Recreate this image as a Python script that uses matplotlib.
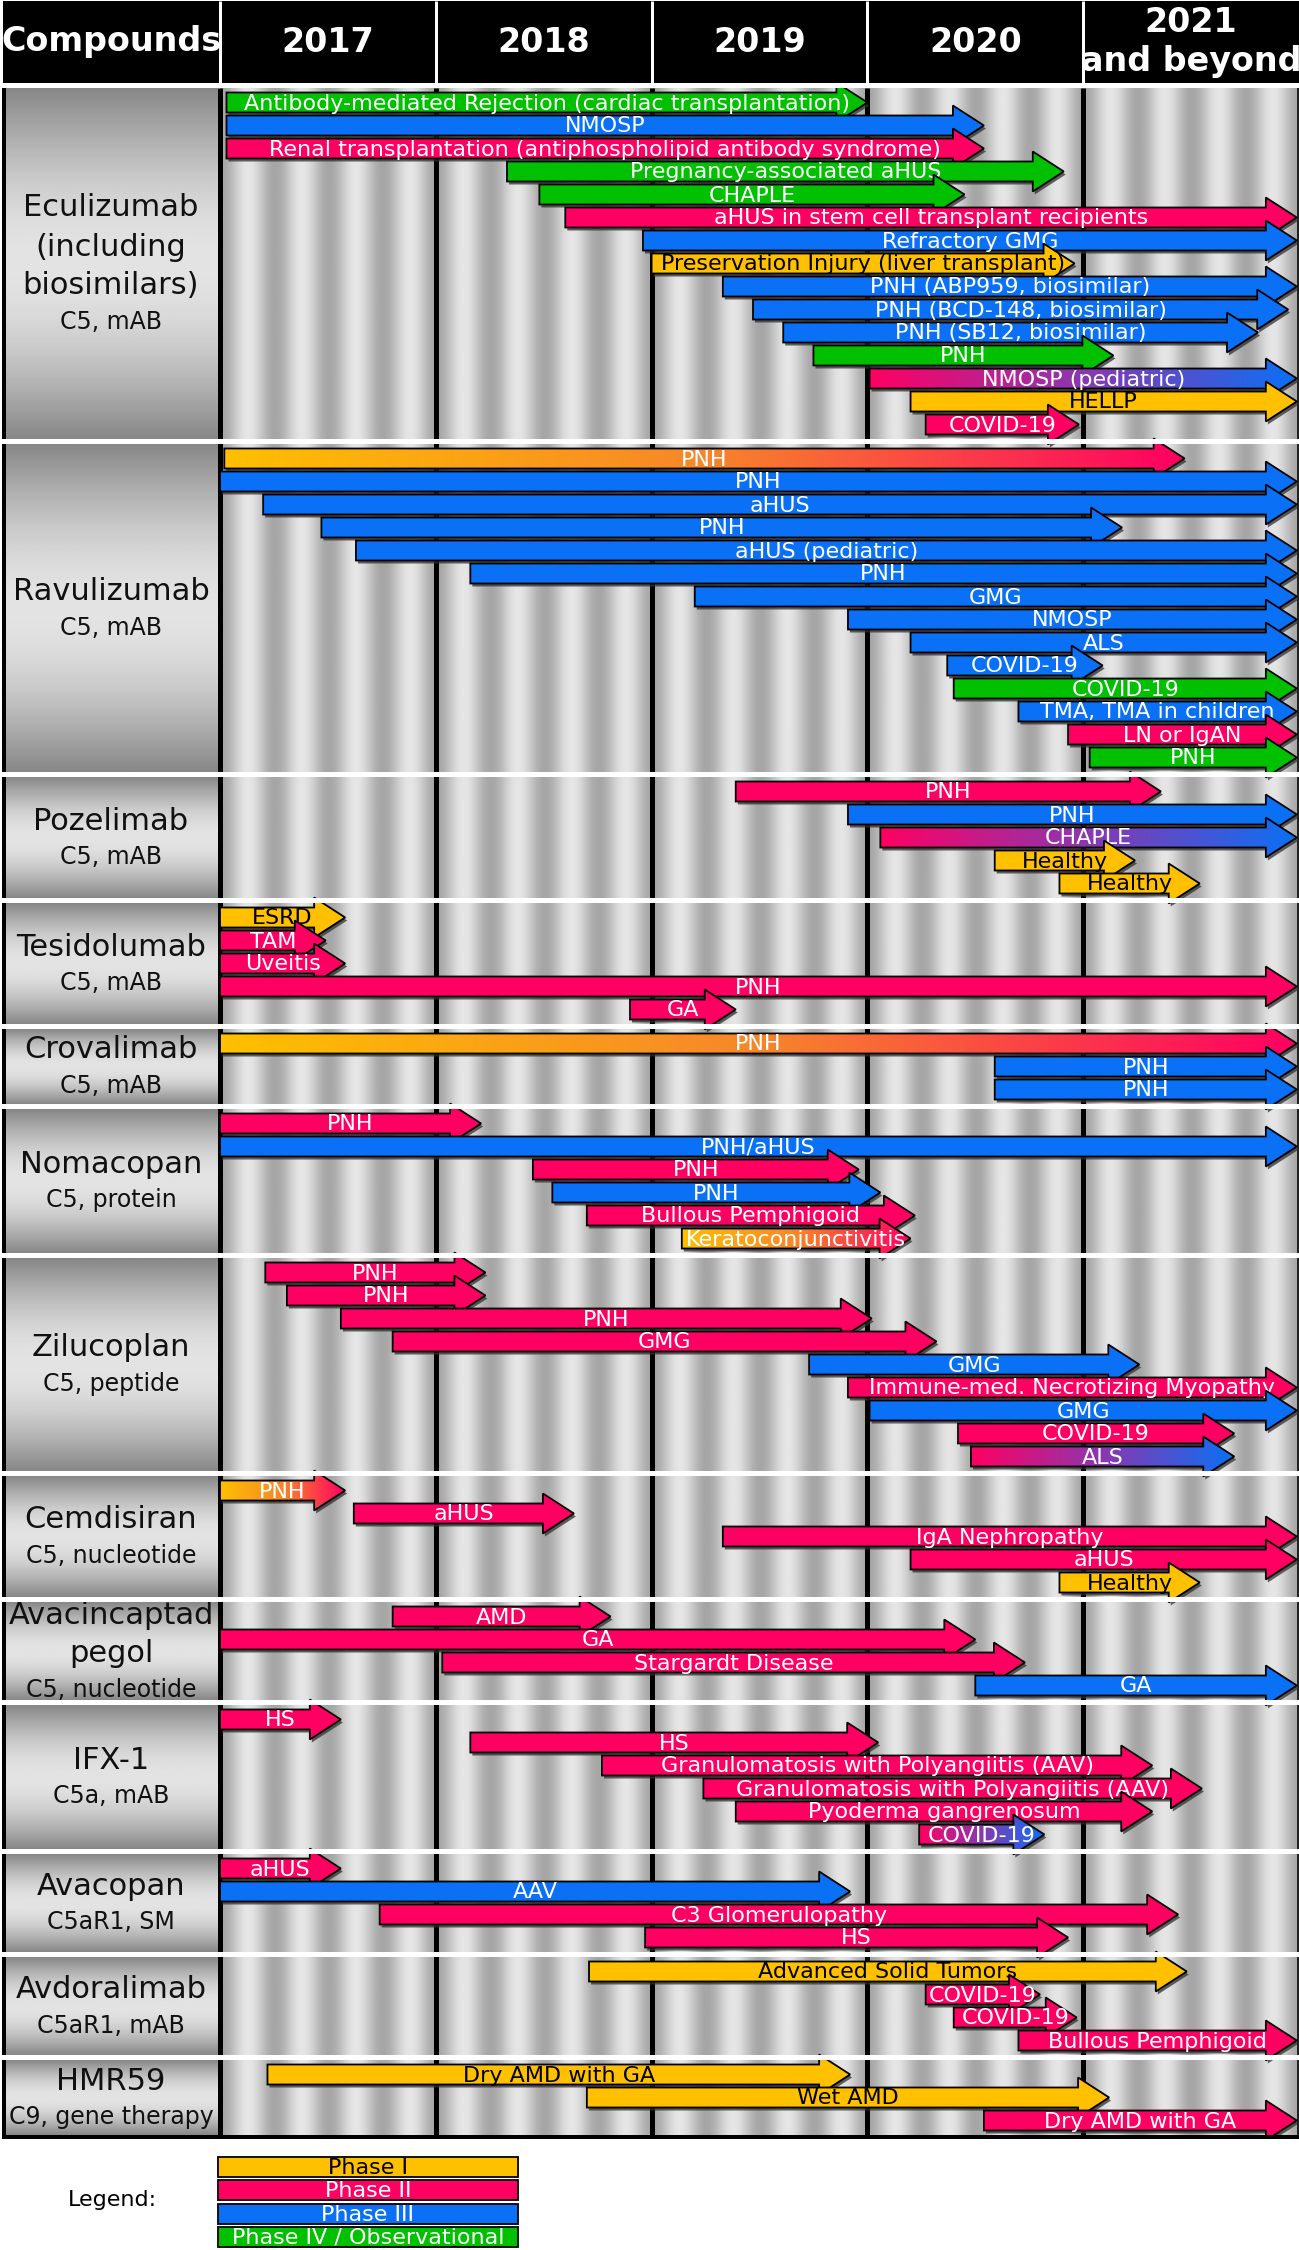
import numpy as np
import matplotlib
matplotlib.use("Agg")
import matplotlib.pyplot as plt
from matplotlib.patches import Polygon, Rectangle
from matplotlib.colors import LinearSegmentedColormap

# trials per compound: (label, phase, start year, end year)
ECULIZUMAB = [
    ("Antibody-mediated Rejection (cardiac transplantation)", "IV", 2017.03, 2020.00),
    ("NMOSP", "III", 2017.03, 2020.54),
    ("Renal transplantation (antiphospholipid antibody syndrome)", "II", 2017.03, 2020.54),
    ("Pregnancy-associated aHUS", "IV", 2018.33, 2020.91),
    ("CHAPLE", "IV", 2018.48, 2020.45),
    ("aHUS in stem cell transplant recipients", "II", 2018.60, 2021.99),
    ("Refractory GMG", "III", 2018.96, 2021.99),
    ("Preservation Injury (liver transplant)", "I", 2019.00, 2020.96),
    ("PNH (ABP959, biosimilar)", "III", 2019.33, 2021.99),
    ("PNH (BCD-148, biosimilar)", "III", 2019.47, 2021.95),
    ("PNH (SB12, biosimilar)", "III", 2019.61, 2021.81),
    ("PNH", "IV", 2019.75, 2021.14),
    ("NMOSP (pediatric)", "II-III", 2020.01, 2021.99),
    ("HELLP", "I", 2020.20, 2021.99),
    ("COVID-19", "II", 2020.27, 2020.98),
]
RAVULIZUMAB = [
    ("PNH", "I-II", 2017.02, 2021.47),
    ("PNH", "III", 2017.00, 2021.99),
    ("aHUS", "III", 2017.20, 2021.99),
    ("PNH", "III", 2017.47, 2021.18),
    ("aHUS (pediatric)", "III", 2017.63, 2021.99),
    ("PNH", "III", 2018.16, 2021.99),
    ("GMG", "III", 2019.20, 2021.99),
    ("NMOSP", "III", 2019.91, 2021.99),
    ("ALS", "III", 2020.20, 2021.99),
    ("COVID-19", "III", 2020.37, 2021.09),
    ("COVID-19", "IV", 2020.40, 2021.99),
    ("TMA, TMA in children", "III", 2020.70, 2021.99),
    ("LN or IgAN", "II", 2020.93, 2021.99),
    ("PNH", "IV", 2021.03, 2021.99),
]
POZELIMAB = [
    ("PNH", "II", 2019.39, 2021.36),
    ("PNH", "III", 2019.91, 2021.99),
    ("CHAPLE", "II-III", 2020.06, 2021.99),
    ("Healthy", "I", 2020.59, 2021.24),
    ("Healthy", "I", 2020.89, 2021.54),
]
TESIDOLUMAB = [
    ("ESRD", "I", 2017.00, 2017.58),
    ("TAM", "II", 2017.00, 2017.49),
    ("Uveitis", "II", 2017.00, 2017.58),
    ("PNH", "II", 2017.00, 2021.99),
    ("GA", "II", 2018.90, 2019.39),
]
CROVALIMAB = [
    ("PNH", "I-II", 2017.00, 2021.99),
    ("PNH", "III", 2020.59, 2021.99),
    ("PNH", "III", 2020.59, 2021.99),
]
NOMACOPAN = [
    ("PNH", "II", 2017.00, 2018.21),
    ("PNH/aHUS", "III", 2017.00, 2021.99),
    ("PNH", "II", 2018.45, 2019.96),
    ("PNH", "III", 2018.54, 2020.06),
    ("Bullous Pemphigoid", "II", 2018.70, 2020.22),
    ("Keratoconjunctivitis", "I-II", 2019.14, 2020.20),
]
ZILUCOPLAN = [
    ("PNH", "II", 2017.21, 2018.23),
    ("PNH", "II", 2017.31, 2018.23),
    ("PNH", "II", 2017.56, 2020.02),
    ("GMG", "II", 2017.80, 2020.32),
    ("GMG", "III", 2019.73, 2021.26),
    ("Immune-med. Necrotizing Myopathy", "II", 2019.91, 2021.99),
    ("GMG", "III", 2020.01, 2021.99),
    ("COVID-19", "II", 2020.42, 2021.70),
    ("ALS", "II-III", 2020.48, 2021.70),
]
CEMDISIRAN = [
    ("PNH", "I-II", 2017.00, 2017.58),
    ("aHUS", "II", 2017.62, 2018.64),
    ("IgA Nephropathy", "II", 2019.33, 2021.99),
    ("aHUS", "II", 2020.20, 2021.99),
    ("Healthy", "I", 2020.89, 2021.54),
]
AVACINCAPTAD = [
    ("AMD", "II", 2017.80, 2018.81),
    ("GA", "II", 2017.00, 2020.50),
    ("Stargardt Disease", "II", 2018.03, 2020.73),
    ("GA", "III", 2020.50, 2021.99),
]
IFX1 = [
    ("HS", "II", 2017.00, 2017.56),
    ("HS", "II", 2018.16, 2020.05),
    ("Granulomatosis with Polyangiitis (AAV)", "II", 2018.77, 2021.32),
    ("Granulomatosis with Polyangiitis (AAV)", "II", 2019.24, 2021.55),
    ("Pyoderma gangrenosum", "II", 2019.39, 2021.32),
    ("COVID-19", "II-III", 2020.24, 2020.82),
]
AVACOPAN = [
    ("aHUS", "II", 2017.00, 2017.56),
    ("AAV", "III", 2017.00, 2019.92),
    ("C3 Glomerulopathy", "II", 2017.74, 2021.44),
    ("HS", "II", 2018.97, 2020.93),
]
AVDORALIMAB = [
    ("Advanced Solid Tumors", "I", 2018.71, 2021.48),
    ("COVID-19", "II", 2020.27, 2020.80),
    ("COVID-19", "II", 2020.40, 2020.97),
    ("Bullous Pemphigoid", "II", 2020.70, 2021.99),
]
HMR59 = [
    ("Dry AMD with GA", "I", 2017.22, 2019.92),
    ("Wet AMD", "I", 2018.70, 2021.12),
    ("Dry AMD with GA", "II", 2020.54, 2021.99),
]

GROUPS = [ECULIZUMAB, RAVULIZUMAB, POZELIMAB, TESIDOLUMAB, CROVALIMAB, NOMACOPAN,
          ZILUCOPLAN, CEMDISIRAN, AVACINCAPTAD, IFX1, AVACOPAN, AVDORALIMAB, HMR59]
COMPOUNDS = ["Eculizumab\n(including\nbiosimilars)", "Ravulizumab", "Pozelimab", "Tesidolumab",
             "Crovalimab", "Nomacopan", "Zilucoplan", "Cemdisiran", "Avacincaptad\npegol",
             "IFX-1", "Avacopan", "Avdoralimab", "HMR59"]
TARGETS = ["C5, mAB", "C5, mAB", "C5, mAB", "C5, mAB", "C5, mAB", "C5, protein", "C5, peptide",
           "C5, nucleotide", "C5, nucleotide", "C5a, mAB", "C5aR1, SM", "C5aR1, mAB",
           "C9, gene therapy"]
YEARS = [2017, 2018, 2019, 2020, 2021]
YEAR_LABELS = ["2017", "2018", "2019", "2020", "2021\nand beyond"]
PHASES = ["I", "II", "III", "IV"]
PHASE_LABELS = ["Phase I", "Phase II", "Phase III", "Phase IV / Observational"]

COLORS = {"I": "#FFC000", "II": "#FF0062", "III": "#0A70F5", "IV": "#00C000"}
GRADIENTS = {"I-II": ["#FFC000", "#F7862A", "#FF0062"],
             "II-III": ["#FF0062", "#8A38B0", "#0A70F5"]}

# layout in pixels
W, H = 1299, 2250
LEFT, TOP, BOTTOM = 220, 88, 2135
PX_YEAR = (W - LEFT) / 5
ROW, PAD, SEP = 23, 6, 5
BODY, HEAD, HEAD_LEN = 20, 40, 31
PT = 0.72  # points per pixel at dpi 100
NAME_LINE, SUB_LINE = 39, 33

fig = plt.figure(figsize=(W / 100, H / 100), dpi=100)
fig.patch.set_facecolor("white")

ax = fig.add_axes([LEFT / W, 1 - BOTTOM / H, (W - LEFT) / W, (BOTTOM - TOP) / H])
ax.axis("off")
ov = fig.add_axes([0, 0, 1, 1])
ov.axis("off")
ov.set_zorder(5)

chart_h = BOTTOM - TOP

# group positions
tops = []
y = 0
for g in GROUPS:
    tops.append(y)
    y += len(g) * ROW + PAD + SEP

# striped background
xs = np.linspace(2017, 2022, 3000)
shade = 0.775 + 0.125 * np.cos(2 * np.pi * 4 * (xs - 2017 - 0.13))
ax.imshow(shade[None, :], cmap="gray", vmin=0, vmax=1, extent=(2017, 2022, chart_h, 0),
          aspect="auto", interpolation="bilinear", zorder=0)
ax.vlines(YEARS, 0, chart_h + 2, colors="black", lw=5 * PT, zorder=1, clip_on=False)
ax.vlines(2022, 0, chart_h, colors="#222222", lw=4 * PT, zorder=1, clip_on=False)


def draw_arrow(x0, x1, yc, phase, label, z):
    hl = HEAD_LEN / PX_YEAR
    xb = max(x1 - hl, x0)
    pts = np.array([(x0, yc - BODY / 2), (xb, yc - BODY / 2), (xb, yc - HEAD / 2), (x1, yc),
                    (xb, yc + HEAD / 2), (xb, yc + BODY / 2), (x0, yc + BODY / 2)])
    sh = pts + np.array([2 / PX_YEAR, 3])
    ax.add_patch(Polygon(sh, closed=True, facecolor="#303030", edgecolor="none",
                         alpha=0.75, zorder=z))
    if phase in GRADIENTS:
        poly = Polygon(pts, closed=True, facecolor="none", edgecolor="black",
                       lw=1.3, joinstyle="miter", zorder=z + 0.2)
        ax.add_patch(poly)
        cmap = LinearSegmentedColormap.from_list("g", GRADIENTS[phase])
        im = ax.imshow(np.linspace(0, 1, 256)[None, :], cmap=cmap, aspect="auto",
                       extent=(x0, x1, yc + HEAD / 2, yc - HEAD / 2), zorder=z + 0.1,
                       interpolation="bilinear")
        im.set_clip_path(poly)
        tcol = "white"
    else:
        ax.add_patch(Polygon(pts, closed=True, facecolor=COLORS[phase], edgecolor="black",
                             lw=1.3, joinstyle="miter", zorder=z + 0.1))
        tcol = "black" if phase == "I" else "white"
    ax.text((x0 + x1) / 2, yc + 1, label, ha="center", va="center", fontsize=16,
            color=tcol, zorder=z + 0.3)


z = 10
for gi, g in enumerate(GROUPS):
    for ri, (label, phase, start, end) in enumerate(g):
        yc = tops[gi] + PAD / 2 + ROW / 2 + ri * ROW
        draw_arrow(start, end, yc, phase, label, z)
        z += 1

ax.set_xlim(2017, 2022)
ax.set_ylim(chart_h, 0)

# header
ov.add_patch(Rectangle((3, 1), W - 3, 82, facecolor="black", edgecolor="none", zorder=1))
col_edges = [LEFT + k * PX_YEAR for k in range(6)]
ov.vlines(col_edges[:5], 1, 83, colors="white", lw=3 * PT, zorder=2)
ov.text((3 + LEFT) / 2, 41, "Compounds", ha="center", va="center", color="white",
        fontsize=24, fontweight="bold", zorder=3)
for k, lab in enumerate(YEAR_LABELS):
    ov.text((col_edges[k] + col_edges[k + 1]) / 2, 42, lab, ha="center", va="center",
            color="white", fontsize=24, fontweight="bold", linespacing=1.2, zorder=3)

# compound boxes
t = np.linspace(0, 1, 200)
box_shade = 0.53 + 0.36 * np.sin(np.pi * t)
for gi, g in enumerate(GROUPS):
    y0 = TOP + tops[gi]
    h = len(g) * ROW + PAD
    ov.imshow(box_shade[:, None], cmap="gray", vmin=0, vmax=1, extent=(4, 218, y0 + h, y0),
              aspect="auto", interpolation="bilinear", zorder=1)
    lines = COMPOUNDS[gi].split("\n")
    total = len(lines) * NAME_LINE + SUB_LINE
    ytop = y0 + h / 2 - total / 2
    for li, line in enumerate(lines):
        ov.text(111, ytop + NAME_LINE * (li + 0.5), line, ha="center", va="center",
                fontsize=22, color="#111111", zorder=3)
    ov.text(111, ytop + total - SUB_LINE / 2, TARGETS[gi], ha="center", va="center",
            fontsize=17, color="#111111", zorder=3)

ov.vlines(4, TOP, BOTTOM + 4, colors="black", lw=4 * PT, zorder=4)
ov.hlines(BOTTOM + 2, 2, W, colors="black", lw=4 * PT, zorder=4)

# white separators between compounds
for gi in range(1, len(GROUPS)):
    ov.add_patch(Rectangle((0, TOP + tops[gi] - SEP), W, SEP, facecolor="white",
                           edgecolor="none", zorder=6))
ov.add_patch(Rectangle((0, TOP - 5), W, 5, facecolor="white", edgecolor="none", zorder=6))

# legend
ov.text(112, 2200, "Legend:", ha="center", va="center", fontsize=16, color="black")
for k, (ph, lab) in enumerate(zip(PHASES, PHASE_LABELS)):
    ly = 2157 + k * 23.3
    ov.add_patch(Rectangle((218, ly), 300, 20, facecolor=COLORS[ph], edgecolor="black",
                           lw=1.3, zorder=3))
    ov.text(368, ly + 11, lab, ha="center", va="center", fontsize=16,
            color="black" if ph == "I" else "white", zorder=4)

ov.set_xlim(0, W)
ov.set_ylim(H, 0)

fig.savefig("out.png", dpi=100)
